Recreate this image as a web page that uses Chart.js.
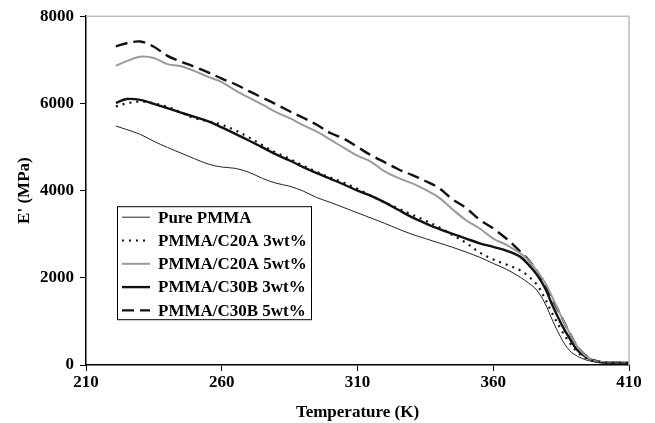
<!DOCTYPE html>
<html>
<head>
<meta charset="utf-8">
<script src="https://cdn.jsdelivr.net/npm/chart.js@4"></script>
<style>
  html, body { margin: 0; padding: 0; background: #fff; }
  #wrap { width: 655px; height: 423px; }
</style>
</head>
<body>
<div id="wrap"><canvas id="chart"></canvas></div>
<script>
// temperatura (K)
const temps = [221, 225, 230, 235, 240, 245, 250, 255, 260, 265, 270, 275, 280, 285, 290, 295,
  300, 305, 310, 315, 320, 325, 330, 335, 340, 345, 350, 355, 360, 365, 370, 373, 376, 379,
  382, 385, 388, 391, 394, 397, 400, 405, 410];

// E' (MPa)
const purePMMA = [5480, 5400, 5290, 5130, 4990, 4860, 4730, 4610, 4540, 4510, 4420, 4280, 4170, 4100, 3990, 3840,
  3730, 3610, 3490, 3370, 3250, 3120, 3000, 2900, 2800, 2700, 2590, 2470, 2330, 2190, 2010, 1880, 1720, 1420,
  1000, 620, 340, 200, 120, 75, 55, 50, 50];
const c20a3 = [5930, 6000, 6040, 6000, 5920, 5790, 5660, 5590, 5510, 5380, 5220, 5040, 4870, 4730, 4570, 4430,
  4300, 4180, 4040, 3880, 3730, 3590, 3450, 3310, 3160, 2980, 2800, 2580, 2420, 2300, 2170, 2030, 1850, 1530,
  1150, 810, 520, 300, 160, 90, 60, 50, 50];
const c20a5 = [6860, 6970, 7070, 7040, 6900, 6850, 6740, 6610, 6490, 6300, 6130, 5970, 5800, 5660, 5500, 5350,
  5170, 4980, 4800, 4660, 4440, 4290, 4170, 4020, 3840, 3570, 3320, 3130, 2900, 2750, 2560, 2400, 2160, 1900,
  1520, 1120, 750, 420, 210, 100, 70, 60, 60];
const c30b3 = [6010, 6100, 6080, 5990, 5890, 5790, 5690, 5590, 5450, 5300, 5150, 4990, 4830, 4690, 4540, 4400,
  4270, 4140, 4000, 3880, 3730, 3560, 3390, 3250, 3120, 3010, 2900, 2790, 2710, 2620, 2480, 2300, 2080, 1770,
  1340, 950, 620, 340, 190, 100, 65, 50, 50];
const c30b5 = [7310, 7380, 7420, 7300, 7090, 6960, 6840, 6710, 6570, 6440, 6280, 6130, 5980, 5820, 5670, 5510,
  5320, 5190, 5000, 4810, 4650, 4490, 4360, 4220, 4060, 3800, 3600, 3330, 3130, 2890, 2600, 2410, 2160, 1860,
  1480, 1120, 750, 420, 220, 110, 60, 50, 50];

const nomes = ["Pure PMMA", "PMMA/C20A 3wt%", "PMMA/C20A 5wt%", "PMMA/C30B 3wt%", "PMMA/C30B 5wt%"];
const xTicks = [210, 260, 310, 360, 410];
const yTicks = [0, 2000, 4000, 6000, 8000];

const FONTE = "'Liberation Serif', 'Times New Roman', serif";

function pontos(vals) {
  return temps.map((t, i) => ({ x: t, y: vals[i] }));
}

function serie(label, vals, cor, largura, tracejado) {
  return {
    label: label,
    data: pontos(vals),
    borderColor: cor,
    borderWidth: largura,
    borderDash: tracejado,
    pointRadius: 0,
    tension: 0.35,
    fill: false
  };
}

// borda cinza em cima e a direita
const bordaPlugin = {
  id: "borda",
  afterDraw(chart) {
    const { ctx, chartArea: a } = chart;
    ctx.save();
    ctx.strokeStyle = "#bdbdbd";
    ctx.lineWidth = 1.5;
    ctx.beginPath();
    ctx.moveTo(a.left, a.top);
    ctx.lineTo(a.right, a.top);
    ctx.lineTo(a.right, a.bottom);
    ctx.stroke();
    ctx.restore();
  }
};

// legenda dentro do grafico, com caixa
const legendaPlugin = {
  id: "legendaCaixa",
  afterDraw(chart) {
    const { ctx, chartArea: a } = chart;
    const x0 = a.left + 31, y0 = a.top + 190, w = 194, h = 113;
    ctx.save();
    ctx.fillStyle = "#fff";
    ctx.fillRect(x0, y0, w, h);
    ctx.strokeStyle = "#000";
    ctx.lineWidth = 1;
    ctx.strokeRect(x0 + 0.5, y0 + 0.5, w, h);
    ctx.font = "bold 17px " + FONTE;
    ctx.textBaseline = "middle";
    chart.data.datasets.forEach((ds, i) => {
      const y = y0 + 11 + i * 23.3;
      ctx.beginPath();
      ctx.strokeStyle = ds.borderColor;
      ctx.lineWidth = ds.borderWidth;
      ctx.setLineDash(ds.borderDash || []);
      ctx.moveTo(x0 + 5, y);
      ctx.lineTo(x0 + 33, y);
      ctx.stroke();
      ctx.setLineDash([]);
      ctx.fillStyle = "#000";
      ctx.fillText(ds.label, x0 + 41, y + 1);
    });
    ctx.restore();
  }
};

new Chart(document.getElementById("chart"), {
  type: "line",
  data: {
    datasets: [
      serie(nomes[0], purePMMA, "#222", 1, []),
      serie(nomes[1], c20a3, "#111", 2.2, [2, 5]),
      serie(nomes[2], c20a5, "#9a9a9a", 2, []),
      serie(nomes[3], c30b3, "#111", 2.4, []),
      serie(nomes[4], c30b5, "#111", 2.4, [12, 6])
    ]
  },
  options: {
    responsive: true,
    maintainAspectRatio: false,
    animation: false,
    layout: { padding: { top: 12, right: 26, left: 0, bottom: 0 } },
    plugins: {
      legend: { display: false },
      tooltip: { enabled: false }
    },
    scales: {
      x: {
        type: "linear",
        min: 210,
        max: 410,
        afterBuildTicks(axis) { axis.ticks = xTicks.map(v => ({ value: v })); },
        afterFit(axis) { axis.height = 58; },
        grid: { drawOnChartArea: false, color: "#000", tickLength: 6, tickWidth: 1 },
        border: { color: "#000", width: 1.5 },
        ticks: {
          color: "#000", font: { family: FONTE, size: 17, weight: "bold" }, padding: 1, maxRotation: 0,
          callback: v => String(v)
        },
        title: {
          display: true,
          text: "Temperature (K)",
          color: "#000",
          font: { family: FONTE, size: 17, weight: "bold" },
          padding: { top: 2, bottom: 0 }
        }
      },
      y: {
        min: 0,
        max: 8000,
        afterBuildTicks(axis) { axis.ticks = yTicks.map(v => ({ value: v })); },
        afterFit(axis) { axis.width = 86; },
        grid: { drawOnChartArea: false, color: "#000", tickLength: 6, tickWidth: 1 },
        border: { color: "#000", width: 1.5 },
        ticks: {
          color: "#000", font: { family: FONTE, size: 17, weight: "bold" }, padding: 6,
          callback: v => String(v)
        },
        title: {
          display: true,
          text: "E' (MPa)",
          color: "#000",
          font: { family: FONTE, size: 17, weight: "bold" },
          padding: { top: 14, bottom: 0 }
        }
      }
    }
  },
  plugins: [bordaPlugin, legendaPlugin]
});
</script>
</body>
</html>
